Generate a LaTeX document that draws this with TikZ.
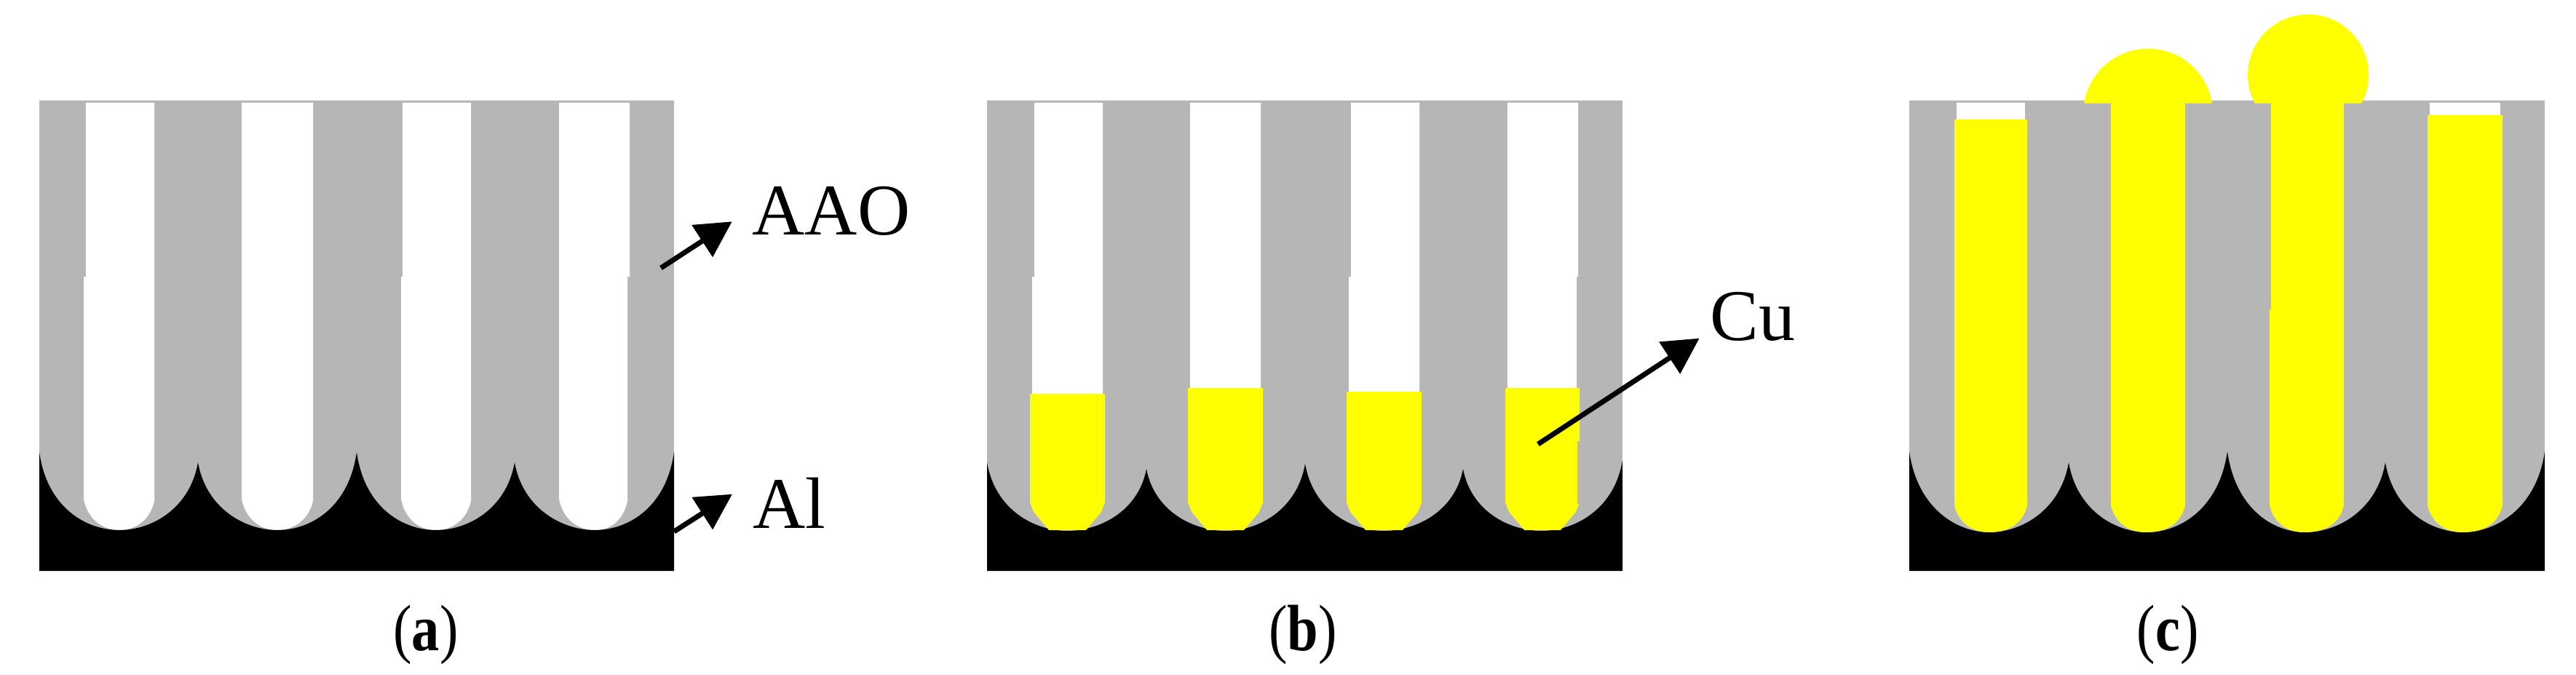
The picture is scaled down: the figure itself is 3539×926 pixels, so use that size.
\documentclass[tikz,border=0pt]{standalone}
\usepackage{fontspec}
\setmainfont{Liberation Serif}
\usepackage{xcolor}
\usepackage{graphicx}
\usetikzlibrary{arrows.meta}
\definecolor{aaogray}{RGB}{182,182,182}
\definecolor{cuyellow}{RGB}{255,255,0}
\tikzset{
  font={\fontsize{10pt}{12}\selectfont}}

\begin{document}
\begin{tikzpicture}[x=0.1pt, y=-0.1pt]

    \tikzset{edge/.style = {-{Triangle[length=4.9pt,width=5.1pt]}, line width=0.7pt}}
    \tikzset{label/.style = {inner ysep=0pt, inner xsep=2.6pt}}
    \tikzset{caption/.style = {inner sep=0pt, font={\fontsize{9pt}{12}\selectfont}}}

    \useasboundingbox (0,0) rectangle (3539,926);

    % panel a
    \fill[aaogray] (54,138) rectangle (926,784);
    \foreach \l/\m/\r/\s/\c in {118/115/212/212/164, 332/332/430/430/381, 553/551/647/647/599, 768/768/865/862/817}
        \fill[white] (\l,141) -- (\l,380) -- (\m,380) -- (\m,685)
            .. controls (\m+5,712) and (\c-24,728) .. (\c,728)
            .. controls (\c+24,728) and (\s-5,712) .. (\s,688) -- (\s,380) -- (\r,380) -- (\r,141) -- cycle;
    \fill[black] (54,784) -- (54,621) .. controls (65,698) and (119,728) .. (164,728)
        .. controls (209,728) and (261,698) .. (272,635)
        .. controls (283,698) and (336,728) .. (381,728)
        .. controls (426,728) and (479,698) .. (490,621)
        .. controls (501,698) and (554,728) .. (599,728)
        .. controls (644,728) and (696,698) .. (707,635)
        .. controls (718,698) and (772,728) .. (817,728)
        .. controls (862,728) and (915,698) .. (926,621) -- (926,784) -- cycle;

    % panel b
    \fill[aaogray] (1356,138) rectangle (2229,784);
    \foreach \l/\m/\r/\s in {1421/1418/1515/1515, 1635/1635/1732/1732, 1856/1853/1950/1950, 2071/2071/2168/2166}
        \fill[white] (\l,141) -- (\l,380) -- (\m,380) -- (\m,560) -- (\s,560) -- (\s,380) -- (\r,380) -- (\r,141) -- cycle;
    \fill[black] (1356,784) -- (1356,635) .. controls (1367,700) and (1421,729) .. (1466,729)
        .. controls (1511,729) and (1564,702) .. (1575,644)
        .. controls (1586,702) and (1639,729) .. (1684,729)
        .. controls (1729,729) and (1782,700) .. (1793,637)
        .. controls (1804,700) and (1856,729) .. (1901,729)
        .. controls (1946,729) and (1999,702) .. (2010,644)
        .. controls (2021,702) and (2073,729) .. (2118,729)
        .. controls (2163,729) and (2218,700) .. (2229,632) -- (2229,784) -- cycle;
    \foreach \l/\r/\t in {1415/1518/541, 1632/1735/533, 1850/1953/538, 2068/2170/533}
        \fill[cuyellow] (\l,\t) -- (\l,690) -- (\l+5,703) -- (\l+26,728) -- (\r-26,728)
            -- (\r-5,703) -- (\r,690) -- (\r,\t) -- cycle;
    \fill[aaogray] (2167,606) rectangle (2170,692);

    % panel c
    \fill[aaogray] (2623,138) rectangle (3496,784);
    \fill[white] (2688,141) rectangle (2782,170);
    \fill[white] (3338,141) rectangle (3435,165);
    \fill[black] (2623,784) -- (2623,620) .. controls (2634,698) and (2688,731) .. (2733,731)
        .. controls (2778,731) and (2831,700) .. (2842,635)
        .. controls (2853,700) and (2905,731) .. (2950,731)
        .. controls (2995,731) and (3049,698) .. (3060,620)
        .. controls (3071,698) and (3122,731) .. (3167,731)
        .. controls (3212,731) and (3266,700) .. (3277,635)
        .. controls (3288,700) and (3339,731) .. (3384,731)
        .. controls (3429,731) and (3485,698) .. (3496,620) -- (3496,784) -- cycle;
    \foreach \l/\r/\t in {2685/2785/164, 2900/3002/141, 3118/3220/141, 3335/3438/158}
        \fill[cuyellow] (\l,\t) -- (\l,694) .. controls (\l+5,716) and (\l+22,731) .. (\l+48,731)
            .. controls (\r-22,731) and (\r-5,716) .. (\r,694) -- (\r,\t) -- cycle;
    \fill[aaogray] (3118,138) rectangle (3120,425);
    \begin{scope}
        \clip (2800,0) rectangle (3300,141);
        \fill[cuyellow] (2951,156) circle[radius=89];
        \fill[cuyellow] (3171,103) circle[radius=83];
    \end{scope}

    % vertices
    \node[label] (aao) at (1142,290) {AAO};
    \node[label] (al) at (1084,691) {Al};
    \node[label, inner xsep=1.3pt] (cu) at (2408,435) {Cu};
    \node[caption] (capa) at (585,872) {\scalebox{.85}[1]{(\textbf{a})}};
    \node[caption] (capb) at (1790,872) {\scalebox{.85}[1]{(\textbf{b})}};
    \node[caption] (capc) at (2978,872) {\scalebox{.85}[1]{(\textbf{c})}};
    \coordinate (aaofrom) at (908,368);
    \coordinate (alfrom) at (926,730);
    \coordinate (cufrom) at (2113,610);

    %edges
    \draw[edge] (aaofrom) to (aao.186);
    \draw[edge] (alfrom) to (al.171);
    \draw[edge] (cufrom) to (cu.202);

\end{tikzpicture}
\end{document}
